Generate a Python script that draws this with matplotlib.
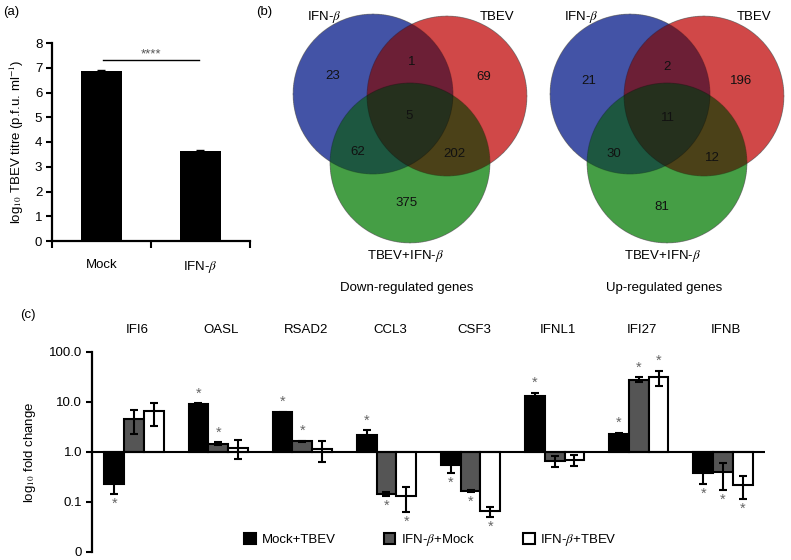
import numpy as np
import matplotlib
matplotlib.use("Agg")
import matplotlib.pyplot as plt
from matplotlib.patches import Patch, Circle

plt.rcParams['font.family'] = ['Liberation Sans', 'DejaVu Sans']
plt.rcParams['mathtext.fontset'] = 'stix'

# ---------------- data ----------------
# (a)
titre_groups = ["Mock", "IFN-$\\beta$"]
titre_values = [6.85, 3.65]
titre_errors = [0.05, 0.04]
titre_sig = "****"

# (b) Venn counts: A-only, B-only, AB, C-only, AC, BC, ABC  (A=IFN-b, B=TBEV, C=TBEV+IFN-b)
venn_sets = ["IFN-$\\beta$", "TBEV", "TBEV+IFN-$\\beta$"]
venn_down = [23, 69, 1, 375, 62, 202, 5]
venn_up = [21, 196, 2, 81, 30, 12, 11]
venn_titles = ["Down-regulated genes", "Up-regulated genes"]

# (c)
genes = ["IFI6", "OASL", "RSAD2", "CCL3", "CSF3", "IFNL1", "IFI27", "IFNB"]
series = ["Mock+TBEV", "IFN-$\\beta$+Mock", "IFN-$\\beta$+TBEV"]
mock_tbev = [0.233, 9.3, 6.3, 2.22, 0.558, 13.4, 2.33, 0.38]
mock_tbev_err = [0.09, 0.1, 0.15, 0.5, 0.17, 1.7, 0.1, 0.15]
ifn_mock = [4.64, 1.47, 1.63, 0.147, 0.166, 0.66, 28.0, 0.39]
ifn_mock_err = [2.3, 0.08, 0.03, 0.015, 0.01, 0.17, 3.0, 0.22]
ifn_tbev = [6.5, 1.22, 1.15, 0.132, 0.065, 0.70, 31.6, 0.222]
ifn_tbev_err = [3.2, 0.5, 0.53, 0.07, 0.015, 0.17, 10.5, 0.105]
mock_tbev_sig = [1, 1, 1, 1, 1, 1, 1, 1]
ifn_mock_sig = [0, 1, 1, 1, 1, 0, 1, 1]
ifn_tbev_sig = [0, 0, 0, 1, 1, 0, 1, 1]
fold_ticks = [0.01, 0.1, 1, 10, 100]
fold_ticklabels = ["0", "0.1", "1.0", "10.0", "100.0"]

# ---------------- figure ----------------
W, H = 791, 560
fig = plt.figure(figsize=(W / 100, H / 100), dpi=100)

def ax_px(l, t, r, b):
    return fig.add_axes([l / W, 1 - b / H, (r - l) / W, (b - t) / H])

FS = 9.5

# ---------------- (a) ----------------
axa = ax_px(52, 43, 250, 241)
xa = np.arange(len(titre_groups))
axa.bar(xa, titre_values, width=0.41, color='black', zorder=2)
axa.errorbar(xa, titre_values, yerr=titre_errors, fmt='none', ecolor='black',
             elinewidth=1.2, capsize=3, zorder=3)
axa.set_xlim(-0.5, 1.5)
axa.set_ylim(0, 8)
axa.set_yticks(range(0, 9))
axa.set_xticks(xa)
axa.set_xticklabels(titre_groups, fontsize=FS)
axa.set_xticks([-0.5, 0.5, 1.5], minor=True)
axa.tick_params(axis='x', which='major', length=0, pad=13)
axa.tick_params(axis='x', which='minor', length=5, width=1.5, direction='out')
axa.tick_params(axis='y', length=4, width=1.5, labelsize=FS, pad=3)
for s in ['top', 'right']:
    axa.spines[s].set_visible(False)
for s in ['left', 'bottom']:
    axa.spines[s].set_linewidth(1.6)
axa.set_ylabel("log$_{10}$ TBEV titre (p.f.u. ml$^{-1}$)", fontsize=FS, labelpad=6)
axa.plot([0.02, 0.98], [7.3, 7.3], color='black', lw=1.0)
axa.text(0.5, 7.3, titre_sig, ha='center', va='bottom', fontsize=FS, color='#555555')

# ---------------- overlay for (b) and labels ----------------
ov = fig.add_axes([0, 0, 1, 1], zorder=-1)
ov.set_xlim(0, W)
ov.set_ylim(H, 0)
ov.axis('off')

col_A = np.array([0x44, 0x53, 0xa6]) / 255
col_B = np.array([0xd0, 0x48, 0x48]) / 255
col_C = np.array([0x45, 0x9e, 0x45]) / 255
col_AB = np.array([0x6c, 0x1f, 0x36]) / 255
col_AC = np.array([0x1d, 0x58, 0x40]) / 255
col_BC = np.array([0x4c, 0x42, 0x18]) / 255
col_ABC = np.array([0x26, 0x30, 0x1e]) / 255

R = 80
def draw_venn(cx, counts, title, label_pos):
    centres = [(cx - 37, 94), (cx + 37, 96), (cx, 163)]
    x0, x1, y0, y1 = cx - 125, cx + 125, 5, 250
    ss = 4
    xs = np.linspace(x0, x1, int((x1 - x0) * ss))
    ys = np.linspace(y0, y1, int((y1 - y0) * ss))
    X, Y = np.meshgrid(xs, ys)
    inA = (X - centres[0][0]) ** 2 + (Y - centres[0][1]) ** 2 <= R ** 2
    inB = (X - centres[1][0]) ** 2 + (Y - centres[1][1]) ** 2 <= R ** 2
    inC = (X - centres[2][0]) ** 2 + (Y - centres[2][1]) ** 2 <= R ** 2
    img = np.zeros(X.shape + (4,))
    regions = [
        (inA & ~inB & ~inC, col_A), (~inA & inB & ~inC, col_B), (~inA & ~inB & inC, col_C),
        (inA & inB & ~inC, col_AB), (inA & ~inB & inC, col_AC), (~inA & inB & inC, col_BC),
        (inA & inB & inC, col_ABC)]
    for m, c in regions:
        img[m, :3] = c
        img[m, 3] = 1
    ov.imshow(img, extent=[x0, x1, y1, y0], interpolation='antialiased', aspect='auto', zorder=1)
    for (ccx, ccy) in centres:
        ov.add_patch(Circle((ccx, ccy), R, fill=False, ec='black', lw=0.6, alpha=0.25, zorder=2))
    for (px, py), n in zip(label_pos, counts):
        ov.text(cx + px, py, str(n), ha='center', va='center', fontsize=FS, color='#111111', zorder=3)
    ov.text(centres[0][0] - 66, 17, venn_sets[0], ha='left', va='center', fontsize=FS)
    ov.text(centres[1][0] + 67, 17, venn_sets[1], ha='right', va='center', fontsize=FS)
    ov.text(cx - 5, 256, venn_sets[2], ha='center', va='center', fontsize=FS)
    ov.text(cx - 3, 288, title, ha='center', va='center', fontsize=FS)

pos_down = [(-77, 76), (74, 77), (2, 62), (-3, 203), (-52, 152), (44, 154), (-1, 116)]
pos_up = [(-78, 81), (74, 81), (0, 67), (-5, 207), (-53, 154), (45, 158), (1, 118)]
draw_venn(410, venn_down, venn_titles[0], pos_down)
draw_venn(667, venn_up, venn_titles[1], pos_up)

ov.text(3, 12, "(a)", ha='left', va='center', fontsize=FS)
ov.text(256, 12, "(b)", ha='left', va='center', fontsize=FS)
ov.text(20, 315, "(c)", ha='left', va='center', fontsize=FS)

# ---------------- (c) ----------------
axc = ax_px(92, 352, 765, 552)
axc.set_yscale('log')
xg = np.arange(len(genes))
bw = 0.235
offs = [-bw, 0, bw]
all_vals = [mock_tbev, ifn_mock, ifn_tbev]
all_errs = [mock_tbev_err, ifn_mock_err, ifn_tbev_err]
all_sig = [mock_tbev_sig, ifn_mock_sig, ifn_tbev_sig]
faces = ['black', '#555555', 'white']
for vals, errs, sig, off, fc in zip(all_vals, all_errs, all_sig, offs, faces):
    vals = np.array(vals)
    errs = np.array(errs)
    axc.bar(xg + off, vals - 1, bottom=1, width=bw, color=fc, edgecolor='black',
            linewidth=1.5, zorder=2)
    lo = np.minimum(errs, vals * 0.999)
    axc.errorbar(xg + off, vals, yerr=[lo, errs], fmt='none', ecolor='black',
                 elinewidth=1.5, capsize=3, capthick=1.5, zorder=3)
    for xi, v, e, l, s in zip(xg + off, vals, errs, lo, sig):
        if not s:
            continue
        if v >= 1:
            axc.annotate("*", (xi, v + e), xytext=(0, 2), textcoords='offset points',
                         ha='center', va='bottom', fontsize=FS + 1, color='#666666')
        else:
            axc.annotate("*", (xi, v - l), xytext=(0, -2),
                         textcoords='offset points', ha='center', va='top',
                         fontsize=FS + 1, color='#666666')
axc.axhline(1, color='black', lw=1.5, zorder=4)
axc.set_xlim(-0.5, 7.5)
axc.set_ylim(0.01, 100)
axc.set_yticks(fold_ticks)
axc.set_yticklabels(fold_ticklabels)
axc.yaxis.set_minor_locator(matplotlib.ticker.NullLocator())
axc.set_xticks([])
axc.tick_params(axis='y', length=4, width=1.5, labelsize=FS, pad=3)
for s in ['top', 'right', 'bottom']:
    axc.spines[s].set_visible(False)
axc.spines['left'].set_linewidth(1.6)
axc.set_ylabel("log$_{10}$ fold change", fontsize=FS, labelpad=8)
for xi, g in zip(xg, genes):
    axc.text(xi + 0.04, 1.11, g, transform=axc.get_xaxis_transform(), ha='center',
             va='center', fontsize=FS)
handles = [Patch(facecolor=fc, edgecolor='black', linewidth=1.5) for fc in faces]
axc.legend(handles, series, loc='center', bbox_to_anchor=(0.503, 0.06), ncol=3,
           frameon=False, fontsize=FS, handlelength=0.9, handleheight=0.9,
           handletextpad=0.4, columnspacing=3.65)

fig.savefig("out.png", dpi=100)
